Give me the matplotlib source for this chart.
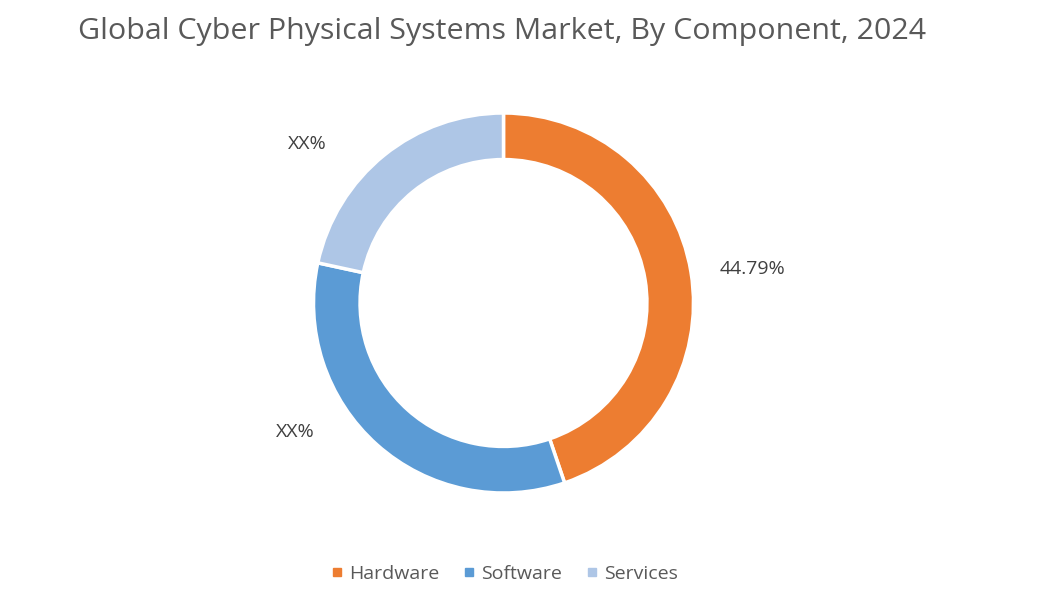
import matplotlib
matplotlib.use('Agg')
import matplotlib.pyplot as plt
from matplotlib.lines import Line2D

categories = ['Hardware', 'Software', 'Services']
# shares, only Hardware is labelled
values = [44.79, 33.6, 21.61]
labels = ['44.79%', 'XX%', 'XX%']
colors = ['#ED7D31', '#5B9BD5', '#AEC6E6']
title = 'Global Cyber Physical Systems Market, By Component, 2024'

plt.rcParams['font.family'] = ['Open Sans', 'DejaVu Sans']
text_color = '#595959'

fig = plt.figure(figsize=(10.38, 6.0), dpi=100)

# centre 503.5,303 and outer radius 190 px
ax = fig.add_axes([(503.5 - 190) / 1038, (600 - 303 - 190) / 600, 380 / 1038, 380 / 600])
ax.pie(values, colors=colors, startangle=90, counterclock=False, radius=1.0,
       wedgeprops=dict(width=0.245, edgecolor='white', linewidth=2.5))
ax.set_xlim(-1, 1)
ax.set_ylim(-1, 1)
ax.axis('off')

fig.text(78 / 1038, 1 - 31 / 600, title, fontsize=21.9, color=text_color, va='center', ha='left')

fig.text(752 / 1038, 1 - 269 / 600, labels[0], fontsize=14, color='#404040', va='center', ha='center')
fig.text(295 / 1038, 1 - 432 / 600, labels[1], fontsize=14, color='#404040', va='center', ha='center')
fig.text(307 / 1038, 1 - 144 / 600, labels[2], fontsize=14, color='#404040', va='center', ha='center')

handles = [Line2D([], [], marker='s', linestyle='none', color=c, markersize=6) for c in colors]
fig.legend(handles, categories, loc='center', bbox_to_anchor=(505 / 1038, 1 - 574 / 600), ncol=3,
           frameon=False, fontsize=14, labelcolor=text_color, handlelength=0.5,
           handletextpad=0.35, columnspacing=1.3)

fig.savefig('out.png', dpi=100)
